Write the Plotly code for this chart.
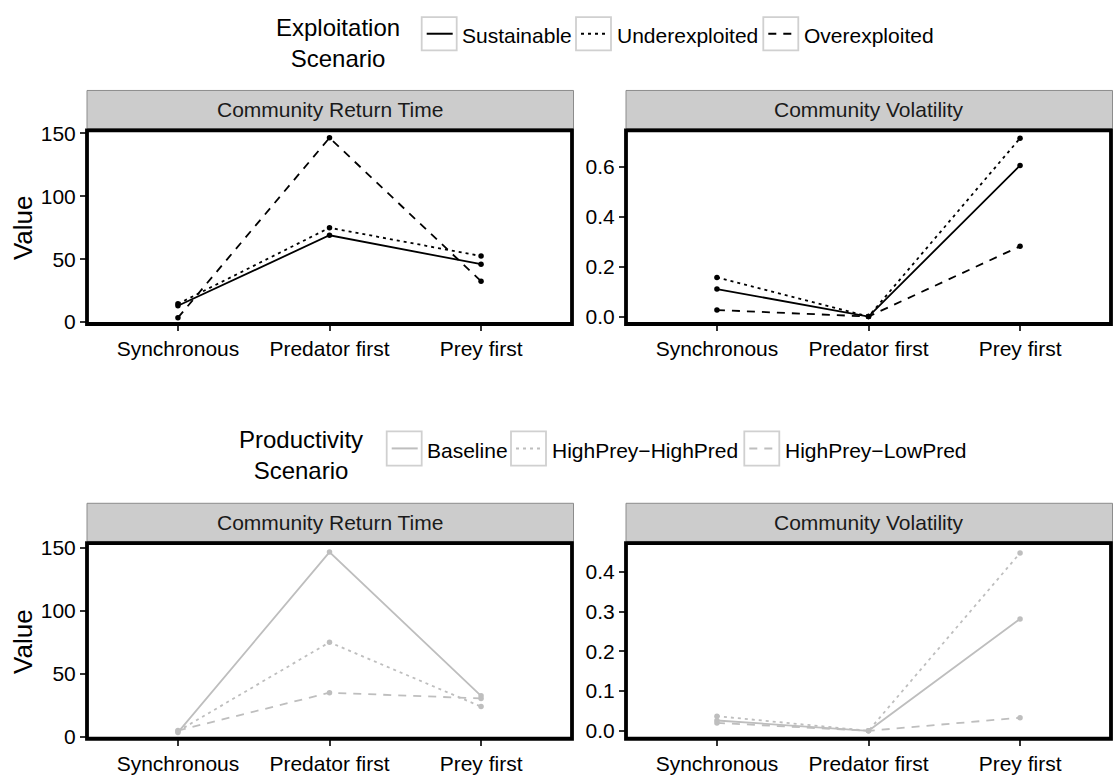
import plotly.graph_objects as go

# ---------------- data ----------------
categories = ["Synchronous", "Predator first", "Prey first"]

exploit_names = ["Sustainable", "Underexploited", "Overexploited"]
exploit_return = {
    "Sustainable": [13, 69, 46],
    "Underexploited": [14.5, 75, 52.5],
    "Overexploited": [3.5, 146.5, 32.5],
}
exploit_volatility = {
    "Sustainable": [0.11, 0.0, 0.607],
    "Underexploited": [0.157, 0.0, 0.716],
    "Overexploited": [0.026, 0.0, 0.282],
}

prod_names = ["Baseline", "HighPrey\u2212HighPred", "HighPrey\u2212LowPred"]
prod_return = {
    "Baseline": [3.5, 146.5, 32.5],
    "HighPrey\u2212HighPred": [4.5, 75, 24],
    "HighPrey\u2212LowPred": [5, 35, 30.5],
}
prod_volatility = {
    "Baseline": [0.026, 0.0, 0.282],
    "HighPrey\u2212HighPred": [0.037, 0.0, 0.448],
    "HighPrey\u2212LowPred": [0.02, 0.0, 0.033],
}

panel_titles = ["Community Return Time", "Community Volatility"]

# ---------------- styling ----------------
W, H = 1115, 782
FONT = "Liberation Sans, Arial, Helvetica, sans-serif"
DASHES = ["solid", "3px,4px", "8px,7px"]
BLACK = "#000000"
GREY = "#BEBEBE"


def fx(p):
    return p / W


def fy(p):
    return 1 - p / H


# panel pixel boxes (left, right) / (top, bottom)
X_LEFT = (87, 572)
X_RIGHT = (626, 1111)
Y_TOP = (125, 323)
Y_BOT = (547, 747)

fig = go.Figure()

panels = [
    ("x", "y", X_LEFT, Y_TOP, exploit_return, exploit_names, BLACK, [-1.5, 152.5], [0, 50, 100, 150], None),
    ("x2", "y2", X_RIGHT, Y_TOP, exploit_volatility, exploit_names, BLACK, [-0.03, 0.748], [0, 0.2, 0.4, 0.6], ".1f"),
    ("x3", "y3", X_LEFT, Y_BOT, prod_return, prod_names, GREY, [-1.5, 153.6], [0, 50, 100, 150], None),
    ("x4", "y4", X_RIGHT, Y_BOT, prod_volatility, prod_names, GREY, [-0.02, 0.473], [0, 0.1, 0.2, 0.3, 0.4], ".1f"),
]

shapes = []
annotations = []
layout_axes = {}

for i, (xa, ya, xpx, ypx, data, names, color, yrange, yticks, yfmt) in enumerate(panels):
    for name, dash in zip(names, DASHES):
        fig.add_trace(go.Scatter(
            x=categories, y=data[name], xaxis=xa, yaxis=ya,
            mode="lines+markers", name=name, showlegend=False,
            line=dict(color=color, width=1.8, dash=dash),
            marker=dict(color=color, size=5.5),
        ))
    xkey = "xaxis" if xa == "x" else "xaxis" + xa[1:]
    ykey = "yaxis" if ya == "y" else "yaxis" + ya[1:]
    layout_axes[xkey] = dict(
        domain=[fx(xpx[0]), fx(xpx[1])], anchor=ya,
        type="category", categoryorder="array", categoryarray=categories,
        range=[-0.6, 2.6], showgrid=False, zeroline=False, showline=False,
        ticks="outside", ticklen=6, tickwidth=1.5, tickcolor="#333333",
        tickfont=dict(family=FONT, size=21, color="#000000"),
    )
    ydict = dict(
        domain=[fy(ypx[1]), fy(ypx[0])], anchor=xa,
        range=yrange, tickvals=yticks, showgrid=False, zeroline=False, showline=False,
        ticks="outside", ticklen=6, tickwidth=1.5, tickcolor="#333333",
        tickfont=dict(family=FONT, size=21, color="#000000"),
    )
    if yfmt:
        ydict["tickformat"] = yfmt
    layout_axes[ykey] = ydict

    # strip
    strip_top = ypx[0] - 40.7
    strip_bot = ypx[0] - 1.7
    shapes.append(dict(type="rect", xref="paper", yref="paper",
                       x0=fx(xpx[0]), x1=fx(xpx[1] + 1.5), y0=fy(strip_bot), y1=fy(strip_top),
                       fillcolor="#CCCCCC", line=dict(color="#8C8C8C", width=1), layer="below"))
    annotations.append(dict(xref="paper", yref="paper",
                            x=fx((xpx[0] + xpx[1]) / 2), y=fy((strip_top + strip_bot) / 2),
                            text=panel_titles[i % 2], showarrow=False,
                            xanchor="center", yanchor="middle",
                            font=dict(family=FONT, size=21, color="#1A1A1A")))
    # panel border
    shapes.append(dict(type="rect", xref="paper", yref="paper",
                       x0=fx(xpx[0]), x1=fx(xpx[1]), y0=fy(ypx[1]), y1=fy(ypx[0]),
                       line=dict(color="#000000", width=3.8), layer="above"))

# y axis titles
for yc in [225, 648]:
    annotations.append(dict(xref="paper", yref="paper", x=fx(23), y=fy(yc),
                            text="Value", textangle=-90, showarrow=False,
                            xanchor="center", yanchor="middle",
                            font=dict(family=FONT, size=26, color="#000000")))

# legends (drawn manually to mimic ggplot key boxes)
legend_specs = [
    dict(title="Exploitation<br>Scenario", title_x=338, title_y=36,
         names=exploit_names, boxes=[421.7, 576.0, 763.3], box_y=(9.3, 43.3),
         color=BLACK),
    dict(title="Productivity<br>Scenario", title_x=301, title_y=456.7,
         names=prod_names, boxes=[386.7, 511.0, 744.3], box_y=(432.7, 467.7),
         color=GREY),
]
for spec in legend_specs:
    annotations.append(dict(xref="paper", yref="paper", x=fx(spec["title_x"]), y=fy(spec["title_y"]),
                            text=spec["title"], showarrow=False, align="center",
                            xanchor="center", yanchor="middle",
                            font=dict(family=FONT, size=24, color="#000000")))
    by0, by1 = spec["box_y"]
    bc = (by0 + by1) / 2
    for name, bx, dash in zip(spec["names"], spec["boxes"], DASHES):
        shapes.append(dict(type="rect", xref="paper", yref="paper",
                           x0=fx(bx), x1=fx(bx + 35), y0=fy(by1), y1=fy(by0),
                           fillcolor="#FFFFFF", line=dict(color="#D0D0D0", width=1.8)))
        shapes.append(dict(type="line", xref="paper", yref="paper",
                           x0=fx(bx + 5), x1=fx(bx + 31), y0=fy(bc), y1=fy(bc),
                           line=dict(color=spec["color"], width=2, dash=dash)))
        annotations.append(dict(xref="paper", yref="paper", x=fx(bx + 38.5), y=fy(bc + 2),
                                text=name, showarrow=False, xanchor="left", yanchor="middle",
                                font=dict(family=FONT, size=21, color="#000000")))

fig.update_layout(
    width=W, height=H,
    margin=dict(l=0, r=0, t=0, b=0),
    paper_bgcolor="#FFFFFF", plot_bgcolor="#FFFFFF",
    font=dict(family=FONT),
    shapes=shapes, annotations=annotations,
    showlegend=False,
    **layout_axes,
)

fig.write_html("out.html")
